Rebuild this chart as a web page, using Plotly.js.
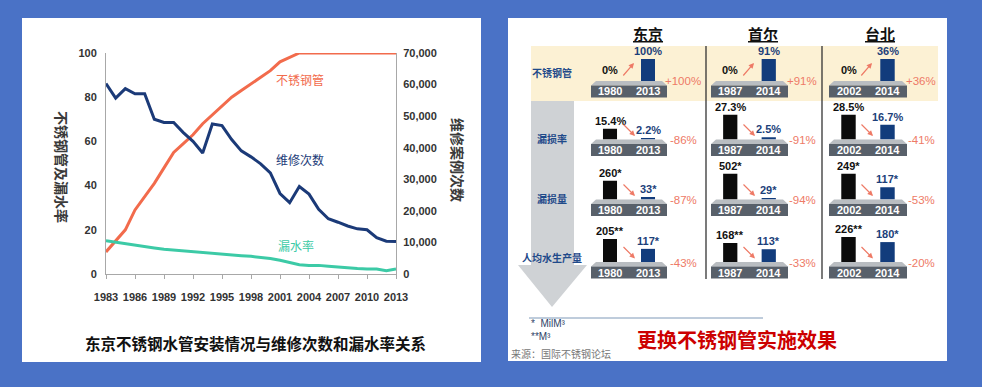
<!DOCTYPE html>
<html><head><meta charset="utf-8">
<script src="https://cdn.plot.ly/plotly-3.0.1.min.js"></script>
<style>html,body{margin:0;padding:0;background:#4a72c6;} #chart{width:982px;height:387px;}</style>
</head><body><div id="chart"></div>
<script>
// ---------- Left chart data ----------
const years = [1983,1984,1985,1986,1987,1988,1989,1990,1991,1992,1993,1994,1995,1996,1997,1998,1999,2000,2001,2002,2003,2004,2005,2006,2007,2008,2009,2010,2011,2012,2013];
const stainlessShare = [10,15,20,29,35,41,48,55,59,63,68,72,76,80,83,86,89,92,96,98,100,100,100,100,100,100,100,100,100,100,100];
const repairCases = [60300,55700,58700,57100,57100,49000,48000,48000,44800,42000,38300,47500,47000,42600,39000,37100,34900,32000,25500,22600,27700,25300,20500,17500,16400,15200,14300,14000,11500,10400,10300];
const leakRate = [15,14.3,13.6,13,12.4,11.8,11.2,10.8,10.4,10,9.6,9.3,9,8.7,8.3,8,7.6,7,6.2,5.2,4.2,3.9,3.9,3.5,3.1,2.8,2.5,2.3,2.3,1.5,2.3];
const xTickYears = [1983,1986,1989,1992,1995,1998,2001,2004,2007,2010,2013];
const leftTicks = [0,20,40,60,80,100];
const rightTicks = [0,10000,20000,30000,40000,50000,60000,70000];
const seriesNames = ['不锈钢管','维修次数','漏水率'];

// ---------- Right infographic data ----------
const cities = ['东京','首尔','台北'];
const metrics = ['不锈钢管','漏损率','漏损量','人均水生产量'];
const startYears = ['1980','1987','2002'];
const endYears = ['2013','2014','2014'];
const pipeStart = [0,0,0];
const pipeEnd = [100,91,36];
const lossRateStart = [15.4,27.3,28.5];
const lossRateEnd = [2.2,2.5,16.7];
const lossVolStart = [260,502,249];
const lossVolEnd = [33,29,117];
const prodStart = [205,168,226];
const prodEnd = [117,113,180];
const startSuffix = ['%','%','*','**'];
const endSuffix = ['%','%','*','*'];
const footnotes = ['*  MilM³', '**M³'];
const sourceNote = '来源：国际不锈钢论坛';

// ---------- layout helpers ----------
const W = 982, H = 387;
const px = v => v / W;
const py = v => 1 - v / H;
const SANS = "'Liberation Sans Narrow', 'Liberation Sans', Arial, sans-serif";
const CJK = "'Noto Sans CJK SC', 'Noto Sans', sans-serif";
const ORANGE = '#f26b4c', NAVY = '#1b3a78', TEAL = '#3ccaa6';

const traces = [];
const shapes = [];
const annotations = [];
function ann(o) { annotations.push(Object.assign({xanchor:'center', yanchor:'middle', showarrow:false}, o)); }

const layout = {
  width: W, height: H, margin: {l:0, r:0, t:0, b:0},
  paper_bgcolor: '#4a72c6', plot_bgcolor: 'rgba(0,0,0,0)',
  showlegend: false, bargap: 0.63,
  font: {family: SANS}
};

// white panels
shapes.push({type:'rect', xref:'paper', yref:'paper', x0:px(22), x1:px(481), y0:py(362), y1:py(18), fillcolor:'#ffffff', line:{width:0}, layer:'below'});
shapes.push({type:'rect', xref:'paper', yref:'paper', x0:px(508), x1:px(947), y0:py(361), y1:py(18), fillcolor:'#ffffff', line:{width:0}, layer:'below'});

// ---------- Left line chart ----------
traces.push({type:'scatter', mode:'lines', x:years, y:stainlessShare, xaxis:'x', yaxis:'y', line:{color:ORANGE, width:3}, name:seriesNames[0]});
traces.push({type:'scatter', mode:'lines', x:years, y:leakRate, xaxis:'x', yaxis:'y', line:{color:TEAL, width:3}, name:seriesNames[2]});
traces.push({type:'scatter', mode:'lines', x:years, y:repairCases, xaxis:'x', yaxis:'y2', line:{color:NAVY, width:3}, name:seriesNames[1]});

const tickFont = {family:SANS, size:11, color:'#333', weight:'bold'};
layout.xaxis = {domain:[px(106), px(396)], range:[1983, 2013], tickvals:xTickYears, ticktext:xTickYears.map(String), tickangle:0,
  showline:true, linecolor:'#a8a8a8', linewidth:1, ticks:'outside', ticklen:4, tickcolor:'#a8a8a8',
  showgrid:false, zeroline:false, tickfont:tickFont, ticklabelstandoff:9, anchor:'y', fixedrange:true};
layout.yaxis = {domain:[py(274), py(53)], range:[0, 100], tickvals:leftTicks, showline:true, linecolor:'#a8a8a8', linewidth:1,
  showgrid:false, zeroline:false, tickfont:tickFont, ticks:'', ticklabelstandoff:6, anchor:'x', fixedrange:true};
layout.yaxis2 = {overlaying:'y', side:'right', anchor:'x', range:[0, 70000], tickvals:rightTicks, tickformat:',',
  showline:true, linecolor:'#a8a8a8', linewidth:1, showgrid:false, zeroline:false, tickfont:tickFont, ticks:'', ticklabelstandoff:4, fixedrange:true};

ann({xref:'paper', yref:'paper', x:px(62), y:py(167), text:'不锈钢管及漏水率', textangle:90,
  font:{family:CJK, size:14, color:'#3a3a3a', weight:'bold'}});
ann({xref:'paper', yref:'paper', x:px(458), y:py(160), text:'维修案例次数', textangle:90,
  font:{family:CJK, size:14, color:'#3a3a3a', weight:'bold'}});
ann({xref:'paper', yref:'paper', x:px(300), y:py(80), text:seriesNames[0], font:{family:CJK, size:12, color:ORANGE}});
ann({xref:'paper', yref:'paper', x:px(300), y:py(159), text:seriesNames[1], font:{family:CJK, size:12, color:NAVY}});
ann({xref:'paper', yref:'paper', x:px(296), y:py(245), text:seriesNames[2], font:{family:CJK, size:12, color:TEAL}});
ann({xref:'paper', yref:'paper', x:px(256), y:py(343), text:'东京不锈钢水管安装情况与维修次数和漏水率关系',
  font:{family:CJK, size:15.5, color:'#111', weight:'bold'}});

// ---------- Right infographic ----------
shapes.push({type:'rect', xref:'paper', yref:'paper', x0:px(531), x1:px(938), y0:py(101), y1:py(46), fillcolor:'#fcf1d4', line:{width:0}, layer:'below'});
shapes.push({type:'path', xref:'paper', yref:'paper', layer:'below', fillcolor:'#cfd2d5', line:{width:0},
  path:`M ${px(531)},${py(101)} L ${px(574)},${py(101)} L ${px(574)},${py(265)} L ${px(587)},${py(265)} L ${px(552)},${py(307)} L ${px(518)},${py(265)} L ${px(531)},${py(265)} Z`});
[706, 822].forEach(x => shapes.push({type:'line', xref:'paper', yref:'paper', x0:px(x), x1:px(x), y0:py(279), y1:py(46), line:{color:'#333', width:1.3}}));
shapes.push({type:'line', xref:'paper', yref:'paper', x0:px(529), x1:px(763), y0:py(318), y1:py(318), line:{color:'#7f99b8', width:1}});

const cityX = [648, 763, 880];
cities.forEach((c, i) => ann({xref:'paper', yref:'paper', x:px(cityX[i]), y:py(33), text:'<u>'+c+'</u>',
  font:{family:CJK, size:15, color:'#111', weight:'bold'}}));
const rowLabelY = [73, 138, 198, 257];
metrics.forEach((m, r) => ann({xref:'paper', yref:'paper', x:px(552), y:py(rowLabelY[r]), text:m,
  font:{family:CJK, size:10, color:'#1f4a8a', weight:'bold'}}));

const starts = [pipeStart, lossRateStart, lossVolStart, prodStart];
const ends = [pipeEnd, lossRateEnd, lossVolEnd, prodEnd];
const platX0 = [591, 711, 829];
const platX1 = [667, 788, 907];
const baseY = [81, 139.5, 199.5, 262];
const barPxH = [[22,22,22],[11,25,25],[19,26,26],[23,19,25]];
const changeX = [683, 802, 921];
const CHANGE = '#ee7a66';

for (let r = 0; r < 4; r++) {
  for (let c = 0; c < 3; c++) {
    const n = 3 + r*3 + c;
    const s = starts[r][c], e = ends[r][c];
    const cats = [startYears[c], endYears[c]];
    const x0 = platX0[c], x1 = platX1[c], b = baseY[r];
    shapes.push({type:'path', xref:'paper', yref:'paper', layer:'below', fillcolor:'#b9bdc1', line:{width:0},
      path:`M ${px(x0+5)},${py(b)} L ${px(x1-5)},${py(b)} L ${px(x1)},${py(b+4.5)} L ${px(x0)},${py(b+4.5)} Z`});
    shapes.push({type:'rect', xref:'paper', yref:'paper', layer:'below', fillcolor:'#58606a', line:{width:0},
      x0:px(x0), x1:px(x1), y0:py(b+16.5), y1:py(b+4.5)});
    traces.push({type:'bar', x:cats, y:[s, e], xaxis:'x'+n, yaxis:'y'+n, marker:{color:['#0b0b0b', '#123c7c'], line:{width:0}}, hoverinfo:'skip'});
    layout['xaxis'+n] = {type:'category', domain:[px(x0), px(x1)], range:[-0.5, 1.5], anchor:'y'+n, visible:false, fixedrange:true};
    layout['yaxis'+n] = {domain:[py(b), py(b - barPxH[r][c])], range:[0, Math.max(s, e)], anchor:'x'+n, visible:false, fixedrange:true};
    cats.forEach((yr, k) => ann({xref:'x'+n, yref:'paper', x:k, y:py(b+10.5), text:yr,
      font:{family:SANS, size:11, color:'#ffffff', weight:'bold'}}));
    ann({xref:'x'+n, yref:'y'+n, x:0, y:s, yanchor:'bottom', yshift:s === 0 ? 3 : 0, text:s + startSuffix[r],
      font:{family:SANS, size:11, color:'#111', weight:'bold'}});
    ann({xref:'x'+n, yref:'y'+n, x:1, y:e, yanchor:'bottom', yshift:0, text:e + endSuffix[r],
      font:{family:SANS, size:11, color:'#1c3f7a', weight:'bold'}});
    if (r === 0) {
      ann({xref:'paper', yref:'paper', x:px(x0+43), y:py(b-18), ax:-12, ay:14, text:'', showarrow:true,
        arrowhead:2, arrowsize:0.9, arrowwidth:1.2, arrowcolor:CHANGE});
    } else {
      ann({xref:'paper', yref:'paper', x:px(x0+44), y:py(b-3.5), ax:-13, ay:-13, text:'', showarrow:true,
        arrowhead:2, arrowsize:0.9, arrowwidth:1.2, arrowcolor:CHANGE});
    }
    const ch = r === 0 ? Math.round(e - s) : Math.round((e - s) / s * 100);
    ann({xref:'paper', yref:'paper', x:px(changeX[c]), y:py(b+0.5), text:(ch > 0 ? '+' : '') + ch + '%',
      font:{family:SANS, size:11.5, color:CHANGE}});
  }
}

ann({xref:'paper', yref:'paper', x:px(529), y:py(330), xanchor:'left', align:'left', text:footnotes.join('<br>'),
  font:{family:SANS, size:10, color:'#2e3f66'}});
ann({xref:'paper', yref:'paper', x:px(509), y:py(353), xanchor:'left', text:sourceNote, font:{family:CJK, size:10, color:'#777'}});
ann({xref:'paper', yref:'paper', x:px(737), y:py(339), text:'更换不锈钢管实施效果', font:{family:CJK, size:20, color:'#cc0000', weight:'bold'}});

layout.shapes = shapes;
layout.annotations = annotations;
Plotly.newPlot('chart', traces, layout, {displayModeBar:false, staticPlot:true});
</script></body></html>
